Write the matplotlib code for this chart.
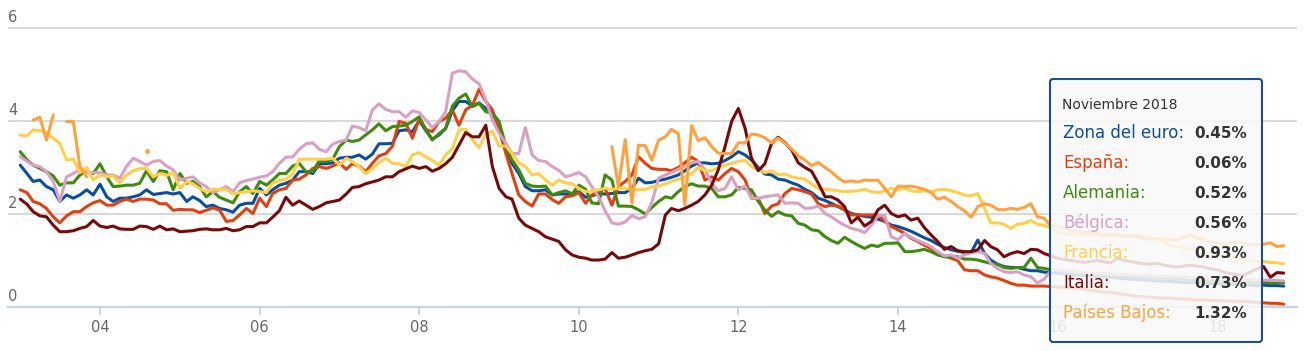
import matplotlib.pyplot as plt
import matplotlib.dates as mdates
import matplotlib.transforms as mtransforms
from matplotlib.patches import FancyBboxPatch
import numpy as np
import pandas as pd

nan = np.nan

# meses: enero 2003 a noviembre 2018
meses = pd.date_range('2003-01-01', periods=191, freq='MS')

zona_euro = [
    3.05, 2.87, 2.70, 2.73, 2.59, 2.52, 2.27, 2.41, 2.34, 2.41, 2.52, 2.41,
    2.64, 2.37, 2.27, 2.34, 2.34, 2.37, 2.41, 2.52, 2.42, 2.44, 2.46, 2.43,
    2.46, 2.27, 2.37, 2.29, 2.16, 2.19, 2.12, 2.09, 2.04, 2.19, 2.23, 2.23,
    2.55, 2.41, 2.52, 2.62, 2.66, 2.73, 2.91, 2.91, 2.87, 3.08, 3.08, 3.10,
    3.20, 3.22, 3.22, 3.27, 3.18, 3.29, 3.51, 3.51, 3.52, 3.79, 3.81, 3.77,
    4.01, 3.79, 3.61, 3.70, 3.84, 4.22, 4.42, 4.42, 4.32, 4.39, 4.27, 4.20,
    3.84, 3.41, 3.09, 2.87, 2.59, 2.50, 2.50, 2.52, 2.41, 2.43, 2.43, 2.44,
    2.48, 2.36, 2.39, 2.44, 2.43, 2.44, 2.46, 2.46, 2.55, 2.77, 2.67, 2.68,
    2.72, 2.75, 2.79, 2.84, 2.93, 3.03, 3.10, 3.10, 3.08, 3.09, 3.15, 3.23,
    3.34, 3.27, 3.16, 3.00, 2.86, 2.84, 2.75, 2.73, 2.67, 2.62, 2.53, 2.46,
    2.34, 2.29, 2.23, 2.16, 2.09, 2.01, 1.98, 1.95, 1.93, 1.89, 1.84, 1.76,
    1.73, 1.68, 1.63, 1.56, 1.49, 1.43, 1.35, 1.28, 1.23, 1.20, 1.17, 1.17,
    1.44, 1.15, 1.01, 0.92, 0.87, 0.85, 0.85, 0.81, 0.78, 0.78, 0.75, 0.74,
    0.73, 0.71, 0.70, 0.69, 0.68, 0.67, 0.66, 0.65, 0.64, 0.62, 0.61, 0.60,
    0.59, 0.58, 0.57, 0.56, 0.55, 0.55, 0.54, 0.53, 0.52, 0.52, 0.51, 0.50,
    0.50, 0.49, 0.48, 0.48, 0.47, 0.47, 0.46, 0.47, 0.46, 0.46, 0.45,
]

espana = [
    2.52, 2.46, 2.27, 2.22, 2.12, 1.94, 1.81, 1.96, 2.05, 2.05, 2.16, 2.24,
    2.29, 2.19, 2.19, 2.27, 2.32, 2.27, 2.32, 2.32, 2.30, 2.22, 2.22, 2.08,
    2.10, 2.09, 2.09, 2.03, 2.08, 2.13, 2.09, 1.84, 1.86, 1.98, 2.12, 2.01,
    2.34, 2.16, 2.44, 2.52, 2.55, 2.73, 2.75, 2.84, 2.98, 3.02, 2.98, 3.03,
    3.10, 2.96, 3.08, 3.03, 2.91, 3.09, 3.25, 3.30, 3.46, 3.99, 3.95, 3.63,
    4.04, 3.82, 3.77, 3.99, 4.06, 4.24, 3.91, 4.24, 4.34, 4.68, 4.42, 4.24,
    3.81, 3.30, 2.87, 2.41, 2.27, 2.17, 2.43, 2.43, 2.31, 2.23, 2.37, 2.39,
    2.46, 2.23, 2.41, 2.48, 2.55, 2.19, 2.59, 2.70, 2.84, 3.23, 3.09, 2.98,
    2.96, 2.96, 2.93, 3.00, 3.10, 3.22, 3.13, 2.73, 2.80, 2.73, 2.87, 2.98,
    2.91, 2.73, 2.34, 2.34, 2.01, 2.17, 2.22, 2.44, 2.55, 2.52, 2.48, 2.43,
    2.22, 2.16, 2.19, 2.17, 2.09, 1.98, 1.98, 1.98, 1.98, 1.98, 1.84, 1.73,
    1.66, 1.58, 1.48, 1.41, 1.33, 1.26, 1.15, 1.10, 1.05, 1.00, 0.80, 0.78,
    0.78, 0.69, 0.65, 0.62, 0.57, 0.51, 0.47, 0.47, 0.45, 0.45, 0.45, 0.44,
    0.43, 0.42, 0.41, 0.40, 0.38, 0.36, 0.34, 0.32, 0.31, 0.29, 0.27, 0.25,
    0.23, 0.22, 0.21, 0.20, 0.19, 0.19, 0.18, 0.17, 0.16, 0.15, 0.15, 0.14,
    0.14, 0.13, 0.13, 0.12, 0.12, 0.11, 0.10, 0.09, 0.08, 0.08, 0.06,
]

alemania = [
    3.34, 3.16, 3.05, 2.98, 2.91, 2.82, 2.62, 2.67, 2.67, 2.84, 2.91, 2.87,
    3.08, 2.80, 2.59, 2.60, 2.62, 2.62, 2.66, 2.93, 2.70, 2.93, 2.91, 2.52,
    2.87, 2.66, 2.70, 2.59, 2.37, 2.48, 2.36, 2.30, 2.24, 2.48, 2.59, 2.44,
    2.70, 2.62, 2.73, 2.87, 2.87, 3.03, 3.09, 2.91, 2.91, 3.15, 3.13, 3.18,
    3.45, 3.59, 3.56, 3.59, 3.70, 3.81, 3.94, 3.79, 3.88, 3.89, 3.91, 3.99,
    4.09, 3.81, 3.59, 3.73, 3.84, 4.32, 4.49, 4.58, 4.31, 4.38, 4.20, 4.17,
    3.99, 3.45, 3.16, 2.95, 2.66, 2.60, 2.59, 2.60, 2.41, 2.46, 2.50, 2.43,
    2.62, 2.53, 2.24, 2.22, 2.84, 2.73, 2.17, 2.17, 2.16, 2.09, 2.00, 2.14,
    2.27, 2.37, 2.34, 2.48, 2.59, 2.65, 2.60, 2.60, 2.55, 2.37, 2.37, 2.41,
    2.57, 2.55, 2.52, 2.27, 2.09, 1.95, 2.05, 1.98, 1.96, 1.80, 1.76, 1.66,
    1.64, 1.51, 1.43, 1.37, 1.50, 1.41, 1.33, 1.26, 1.33, 1.30, 1.37, 1.37,
    1.38, 1.19, 1.19, 1.21, 1.24, 1.19, 1.12, 1.08, 1.08, 1.08, 1.03, 1.03,
    1.01, 0.97, 0.94, 0.92, 0.85, 0.83, 0.85, 0.85, 1.05, 0.85, 0.83, 0.80,
    0.78, 0.76, 0.75, 0.74, 0.72, 0.72, 0.70, 0.69, 0.68, 0.68, 0.66, 0.65,
    0.65, 0.64, 0.63, 0.62, 0.62, 0.61, 0.60, 0.60, 0.59, 0.58, 0.58, 0.57,
    0.56, 0.56, 0.55, 0.55, 0.54, 0.53, 0.53, 0.53, 0.52, 0.52, 0.52,
]

belgica = [
    3.23, 3.13, 3.05, 3.02, 2.91, 2.70, 2.27, 2.80, 2.87, 2.95, 2.89, 2.89,
    2.89, 2.84, 2.84, 2.77, 3.02, 3.20, 3.13, 3.05, 3.13, 3.15, 3.03, 2.95,
    2.73, 2.77, 2.80, 2.67, 2.59, 2.46, 2.52, 2.59, 2.48, 2.67, 2.72, 2.75,
    2.79, 2.82, 2.91, 3.09, 3.22, 3.23, 3.39, 3.51, 3.53, 3.39, 3.34, 3.50,
    3.56, 3.59, 3.89, 3.86, 3.79, 4.24, 4.37, 4.25, 4.20, 4.20, 4.08, 4.22,
    4.18, 4.02, 3.86, 3.99, 4.20, 5.03, 5.08, 5.06, 4.90, 4.80, 4.45, 4.02,
    3.73, 3.52, 3.30, 3.30, 3.86, 3.27, 3.15, 3.13, 3.02, 2.94, 2.80, 2.84,
    2.89, 2.80, 2.59, 2.37, 2.07, 1.81, 1.78, 1.83, 1.97, 1.90, 1.94, 2.25,
    2.77, 2.84, 2.89, 2.96, 3.03, 3.10, 3.13, 2.95, 2.66, 2.50, 2.55, 2.80,
    2.52, 2.60, 2.34, 2.34, 2.37, 2.39, 2.41, 2.23, 2.24, 2.23, 2.12, 2.13,
    2.17, 2.01, 1.94, 1.84, 1.76, 1.69, 1.66, 1.60, 1.76, 1.97, 1.97, 1.51,
    1.45, 1.58, 1.50, 1.43, 1.37, 1.30, 1.19, 1.10, 1.12, 1.05, 1.12, 1.17,
    1.19, 1.15, 0.94, 0.83, 0.76, 0.74, 0.76, 0.69, 0.65, 0.52, 0.60, 0.78,
    0.80, 0.78, 0.77, 0.75, 0.74, 0.73, 0.72, 0.72, 0.71, 0.70, 0.70, 0.69,
    0.68, 0.68, 0.67, 0.66, 0.66, 0.65, 0.65, 0.64, 0.63, 0.63, 0.62, 0.62,
    0.61, 0.61, 0.60, 0.60, 0.59, 0.59, 0.58, 0.58, 0.57, 0.57, 0.56,
]

francia = [
    3.70, 3.68, 3.81, 3.79, 3.75, 3.63, 3.52, 3.16, 3.18, 2.89, 3.00, 2.73,
    2.84, 2.80, 2.82, 2.67, 2.84, 2.93, 2.98, 2.98, 2.80, 2.87, 2.83, 2.89,
    2.55, 2.70, 2.65, 2.55, 2.48, 2.53, 2.53, 2.53, 2.43, 2.46, 2.48, 2.50,
    2.48, 2.46, 2.66, 2.72, 2.75, 2.86, 3.18, 3.18, 3.18, 3.18, 3.18, 3.20,
    3.05, 3.20, 3.13, 3.02, 2.87, 2.98, 3.10, 3.20, 3.09, 3.08, 3.02, 3.27,
    3.32, 3.23, 3.15, 3.05, 3.27, 3.41, 3.81, 3.82, 3.59, 3.43, 3.72, 3.78,
    3.46, 3.46, 3.30, 3.10, 3.02, 2.84, 2.87, 2.73, 2.62, 2.73, 2.67, 2.65,
    2.55, 2.48, 2.50, 2.52, 2.55, 2.53, 2.55, 2.55, 2.53, 2.52, 2.53, 2.58,
    2.60, 2.65, 2.70, 2.75, 2.79, 2.87, 3.00, 2.93, 2.93, 3.00, 3.05, 3.09,
    3.13, 3.16, 3.02, 2.96, 2.89, 2.93, 2.84, 2.86, 2.80, 2.77, 2.75, 2.64,
    2.55, 2.53, 2.52, 2.50, 2.48, 2.49, 2.50, 2.53, 2.48, 2.46, 2.50, 2.55,
    2.53, 2.55, 2.50, 2.48, 2.50, 2.48, 2.52, 2.53, 2.50, 2.46, 2.41, 2.39,
    2.44, 2.12, 1.81, 1.81, 1.78, 1.69, 1.78, 1.80, 1.86, 1.78, 1.76, 1.70,
    1.62, 1.58, 1.56, 1.55, 1.55, 1.54, 1.56, 1.53, 1.52, 1.54, 1.50, 1.52,
    1.55, 1.50, 1.48, 1.45, 1.38, 1.32, 1.30, 1.28, 1.25, 1.22, 1.18, 1.15,
    1.12, 1.10, 1.08, 1.05, 1.02, 1.00, 0.98, 0.98, 0.96, 0.95, 0.93,
]

italia = [
    2.32, 2.21, 2.05, 1.96, 1.94, 1.76, 1.62, 1.62, 1.64, 1.69, 1.73, 1.86,
    1.74, 1.71, 1.74, 1.68, 1.67, 1.67, 1.74, 1.73, 1.67, 1.74, 1.66, 1.68,
    1.62, 1.63, 1.64, 1.67, 1.68, 1.66, 1.66, 1.69, 1.64, 1.66, 1.73, 1.73,
    1.81, 1.81, 1.93, 2.07, 2.36, 2.19, 2.28, 2.19, 2.10, 2.16, 2.24, 2.27,
    2.30, 2.43, 2.57, 2.59, 2.65, 2.69, 2.73, 2.80, 2.80, 2.91, 2.97, 3.03,
    2.98, 3.02, 2.92, 2.98, 3.08, 3.22, 3.48, 3.75, 3.66, 3.66, 3.91, 3.02,
    2.55, 2.37, 2.32, 1.91, 1.76, 1.69, 1.62, 1.51, 1.46, 1.41, 1.23, 1.12,
    1.07, 1.05, 1.01, 1.01, 1.03, 1.17, 1.05, 1.07, 1.12, 1.17, 1.21, 1.24,
    1.36, 1.98, 2.12, 2.07, 2.12, 2.19, 2.27, 2.41, 2.62, 2.95, 3.45, 3.99,
    4.27, 3.84, 3.20, 2.93, 3.08, 3.52, 3.65, 3.53, 3.38, 3.10, 3.00, 2.92,
    2.66, 2.37, 2.37, 2.30, 2.16, 1.81, 1.93, 1.74, 1.84, 2.09, 2.19, 2.01,
    1.94, 1.98, 1.87, 1.91, 1.71, 1.55, 1.41, 1.24, 1.30, 1.21, 1.19, 1.19,
    1.23, 1.43, 1.30, 1.23, 1.08, 1.15, 1.19, 1.15, 1.24, 1.23, 1.15, 1.10,
    1.05, 1.02, 1.00, 0.98, 0.96, 0.98, 1.00, 0.97, 0.95, 1.05, 1.00, 0.98,
    0.95, 0.93, 0.92, 0.94, 0.90, 0.88, 0.86, 0.88, 0.90, 0.88, 0.86, 0.82,
    0.80, 0.75, 0.72, 0.70, 0.68, 0.75, 0.82, 0.87, 0.64, 0.74, 0.73,
]

paises_bajos = [
    nan, nan, 4.02, 4.08, 3.59, 4.13, nan, 3.99, 3.99, 3.02, 2.80, nan,
    nan, nan, nan, nan, nan, nan, nan, 3.35, nan, nan, nan, nan,
    nan, nan, nan, nan, nan, nan, nan, nan, nan, nan, nan, nan,
    nan, nan, nan, nan, nan, nan, nan, nan, nan, nan, nan, nan,
    nan, nan, nan, nan, nan, nan, nan, nan, nan, nan, nan, nan,
    nan, nan, nan, nan, nan, nan, nan, nan, nan, nan, nan, nan,
    nan, nan, nan, nan, nan, nan, nan, nan, nan, nan, nan, nan,
    nan, nan, nan, nan, nan, 3.45, 2.59, 3.60, 2.23, 3.48, 3.47, 3.16,
    3.59, 3.66, 3.82, 3.73, 2.19, 3.90, 3.58, 3.64, 3.45, 3.31, 3.30, 3.30,
    3.53, 3.53, 3.72, 3.70, 3.64, 3.53, 3.63, 3.52, 3.40, 3.25, 3.16, 3.04,
    3.11, 3.00, 2.91, 2.78, 2.69, 2.71, 2.69, 2.73, 2.72, 2.73, 2.55, 2.37,
    2.60, 2.59, 2.60, 2.57, 2.53, 2.46, 2.32, 2.36, 2.27, 2.16, 2.07, 1.93,
    2.16, 2.22, 2.19, 2.10, 2.09, 2.12, 2.10, 2.14, 2.22, 1.94, 1.91, 1.75,
    1.72, 1.70, 1.65, 1.62, 1.60, 1.62, 1.58, 1.55, 1.57, 1.55, 1.52, 1.55,
    1.50, 1.48, 1.45, 1.48, 1.46, 1.45, 1.43, 1.50, 1.55, 1.48, 1.45, 1.40,
    1.38, 1.36, 1.38, 1.40, 1.36, 1.35, 1.34, 1.35, 1.38, 1.30, 1.32,
]

nombres = ['Zona del euro', 'España', 'Alemania', 'Bélgica', 'Francia', 'Italia', 'Países Bajos']
valores = [zona_euro, espana, alemania, belgica, francia, italia, paises_bajos]
colores = ['#0B4F9C', '#E2400F', '#3F8A0F', '#D9A0C6', '#FFCF4A', '#760A0A', '#FFA23E']

W, H = 1305, 351
fig = plt.figure(figsize=(W / 100, H / 100), dpi=100)
ax = fig.add_axes([8 / W, 44 / H, 1289 / W, 6.1 * 46.5 / H])

for nombre, v, color in zip(nombres, valores, colores):
    v = np.array(v, dtype=float)
    ax.plot(meses, v, color=color, lw=2.2, solid_joinstyle='round', solid_capstyle='round', zorder=3)
    # puntos sueltos (sin vecinos) se ven como un punto
    antes = np.r_[nan, v[:-1]]
    despues = np.r_[v[1:], nan]
    suelto = ~np.isnan(v) & np.isnan(antes) & np.isnan(despues)
    ax.plot(meses[suelto], v[suelto], 'o', ms=2.5, color=color, zorder=3)

ax.set_ylim(0, 6.1)
ax.set_xlim(pd.Timestamp('2002-11-06'), pd.Timestamp('2019-01-01'))
for s in ['top', 'right', 'left']:
    ax.spines[s].set_visible(False)
ax.spines['bottom'].set_color('#c8d4e3')
ax.spines['bottom'].set_linewidth(1.6)
ax.spines['bottom'].set_zorder(4)

ax.set_yticks([0, 2, 4, 6])
ax.yaxis.grid(True, color='#d9d9d9', lw=1.5)
ax.set_axisbelow(True)
ax.tick_params(axis='y', length=0, labelleft=False)
for t in [0, 2, 4, 6]:
    ax.annotate(str(t), xy=(0, t), xycoords=ax.get_yaxis_transform(), xytext=(0, 2.5),
                textcoords='offset points', ha='left', va='bottom', color='#666666', fontsize=10.5)

ax.xaxis.set_major_locator(mdates.YearLocator(2, month=1, day=1))
ax.xaxis.set_major_formatter(mdates.DateFormatter('%y'))
ax.tick_params(axis='x', length=5.5, width=1.4, color='#c8d4e3', labelcolor='#666666',
               labelsize=10.5, pad=4)

# cuadro del tooltip, en pixeles
px = mtransforms.IdentityTransform()
caja = FancyBboxPatch((1050, 9), 212, 263, boxstyle='round,pad=0,rounding_size=3',
                      transform=px, fc=(0.975, 0.975, 0.975, 0.86), ec='#1d4f8f', lw=1.5, zorder=10)
fig.add_artist(caja)
fig.text(1062, 246, 'Noviembre 2018', transform=px, fontsize=10, color='#333333',
         ha='left', va='center', zorder=11)
ultimos = ['%.2f%%' % v[-1] for v in valores]
for i, (nombre, color, txt) in enumerate(zip(nombres, colores, ultimos)):
    y = 218 - 30 * i
    fig.text(1063, y, nombre + ':', transform=px, fontsize=12, color=color,
             ha='left', va='center', zorder=11)
    fig.text(1247, y, txt, transform=px, fontsize=11, color='#333333', fontweight='bold',
             ha='right', va='center', zorder=11)

fig.savefig('out.png', dpi=100)
